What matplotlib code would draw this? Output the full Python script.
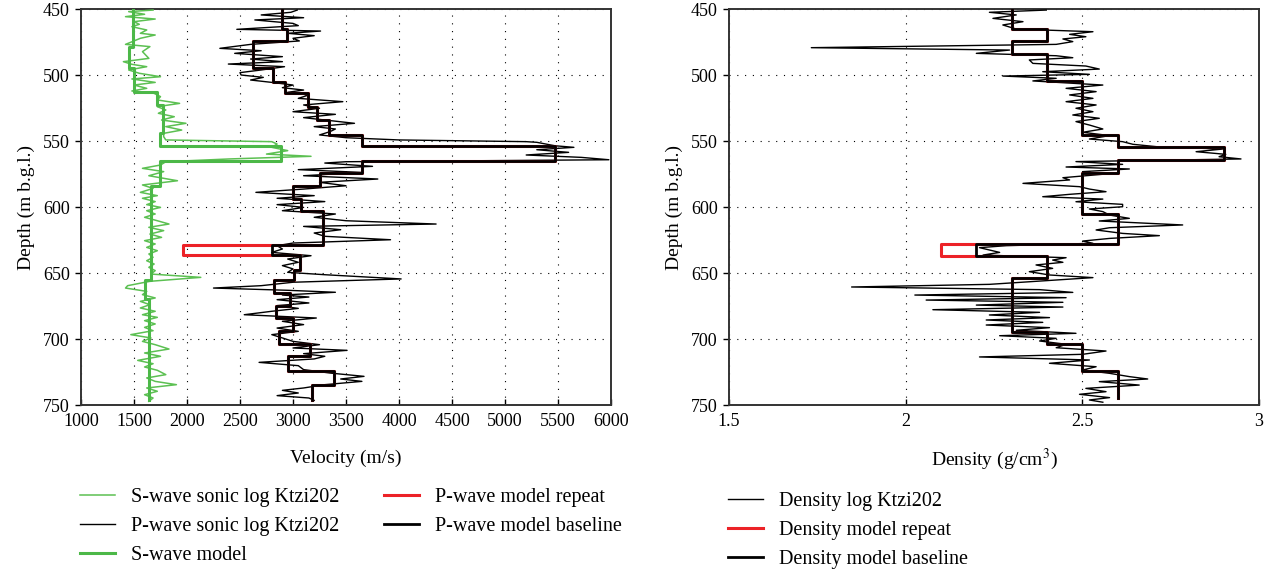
# plot.py
# Ktzi202 well logs vs. layered models: velocity (left) and density (right)

import numpy as np
import matplotlib
matplotlib.use('Agg')
import matplotlib.pyplot as plt

# ----------------------------------------------------------------------------
# 1. Data
# ----------------------------------------------------------------------------

# P-wave sonic log Ktzi202 (depth m, velocity m/s)
p_log_depth = [450.8, 452.5, 454.5, 456.6, 458.3, 460.9, 462.6, 465.4, 466.7, 468.4,
               470.2, 472.2, 474.2, 476.8, 479.8, 481.6, 483.6, 486.1, 487.9, 489.9,
               491.7, 493.7, 496.2, 498.2, 500.0, 501.8, 503.8, 505.6, 507.6, 509.6,
               511.4, 513.1, 515.1, 517.7, 520.2, 522.7, 525.2, 527.8, 529.8, 532.3,
               534.1, 536.6, 539.1, 540.9, 542.9, 545.4, 547.5, 549.2, 550.5, 551.0,
               553.6, 554.8, 556.6, 558.6, 560.6, 562.4, 564.2, 565.7, 566.7, 569.2,
               571.7, 573.8, 576.3, 578.8, 581.3, 583.9, 586.4, 588.9, 591.4, 593.4,
               595.9, 598.2, 600.3, 602.8, 605.3, 607.8, 610.4, 612.9, 614.7, 617.2,
               619.7, 622.2, 624.8, 627.3, 629.3, 631.8, 634.4, 636.9, 639.4, 641.9,
               644.4, 646.9, 649.5, 651.3, 654.5, 657.0, 659.6, 661.4, 663.1, 664.6,
               666.7, 668.2, 670.2, 672.7, 674.7, 676.8, 679.0, 681.6, 684.1, 686.6,
               689.1, 691.7, 694.2, 696.7, 699.2, 701.8, 704.3, 706.8, 708.6, 711.1,
               713.1, 715.1, 717.7, 720.2, 723.2, 725.8, 728.3, 730.3, 732.1, 734.6,
               737.1, 738.9, 740.9, 742.9, 744.7, 746.5]
p_log_vel = [3040, 2980, 2700, 3100, 2640, 3000, 3050, 2470, 3260, 2950,
             3200, 3000, 3060, 2600, 2310, 2700, 2450, 2900, 2600, 2900,
             2390, 2920, 2700, 2500, 2510, 2720, 2600, 2800, 3000, 2900,
             3100, 2950, 3150, 3050, 3470, 3100, 3250, 3000, 3400, 3100,
             3300, 3580, 3200, 3400, 3350, 3250, 3500, 4000, 5200, 5300,
             5470, 5650, 5300, 5600, 5200, 5720, 5980, 3500, 3300, 3750,
             3050, 3650, 3100, 3800, 3250, 3500, 3100, 2650, 3200, 2850,
             3300, 2850, 3100, 2900, 3400, 3200, 3500, 4350, 3100, 3450,
             3200, 3300, 3920, 3000, 2850, 2900, 2800, 3170, 2950, 3050,
             2900, 3000, 2950, 3300, 4020, 3000, 2700, 2250, 2950, 3400,
             2900, 3150, 2850, 3150, 2850, 3050, 2800, 2540, 3220, 2900,
             3100, 2850, 3050, 2800, 2900, 3000, 3250, 3000, 3510, 3100,
             3300, 3200, 2680, 3050, 3100, 3350, 3670, 3450, 3650, 3300,
             3100, 2900, 3050, 2850, 3150, 3200]

# S-wave sonic log Ktzi202 (depth m, velocity m/s)
s_log_depth = [450.8, 452.0, 454.0, 455.8, 457.6, 459.6, 461.6, 463.4, 465.9, 468.4,
               469.7, 472.2, 474.2, 476.8, 478.5, 482.3, 487.4, 489.9, 491.9, 493.7,
               496.2, 498.7, 501.3, 503.0, 505.6, 507.6, 510.1, 512.1, 513.9, 516.4,
               518.9, 521.5, 524.0, 526.5, 529.0, 531.6, 534.1, 536.6, 539.1, 541.7,
               544.2, 546.7, 549.2, 550.5, 552.3, 554.8, 557.3, 559.9, 561.6, 563.6,
               565.7, 568.2, 570.7, 573.2, 576.3, 580.1, 583.3, 585.9, 588.9, 591.4,
               593.4, 595.9, 598.2, 600.3, 602.8, 605.3, 607.8, 610.4, 612.9, 615.4,
               617.9, 620.5, 623.0, 625.5, 628.0, 630.6, 633.1, 635.6, 638.1, 640.7,
               643.2, 645.7, 648.2, 650.8, 653.3, 656.3, 659.6, 661.4, 663.9, 666.4,
               668.9, 671.5, 674.0, 676.5, 679.0, 681.6, 683.6, 686.1, 688.6, 691.2,
               693.7, 696.7, 699.2, 701.8, 704.3, 707.6, 710.6, 713.1, 716.2, 718.7,
               721.2, 723.7, 727.0, 729.5, 732.1, 734.6, 737.1, 739.6, 742.2, 744.7,
               747.2]
s_log_vel = [1680, 1450, 1600, 1420, 1700, 1500, 1550, 1480, 1620, 1560,
             1700, 1560, 1500, 1420, 1650, 1580, 1640, 1400, 1480, 1620,
             1450, 1550, 1750, 1480, 1700, 1500, 1620, 1480, 1690, 1750,
             1720, 1930, 1720, 1800, 1730, 1880, 1760, 1990, 1800, 1950,
             1780, 1780, 1800, 2800, 2850, 2800, 2950, 2750, 3170, 2400,
             1800, 1750, 1580, 1780, 1640, 1910, 1580, 1680, 1560, 1720,
             1580, 1700, 1620, 1750, 1620, 1700, 1600, 1720, 1830, 1640,
             1780, 1650, 1760, 1600, 1700, 1620, 1720, 1640, 1680, 1620,
             1690, 1640, 1700, 1660, 2130, 1650, 1440, 1420, 1620, 1580,
             1700, 1560, 1650, 1560, 1700, 1580, 1720, 1600, 1700, 1600,
             1680, 1470, 1660, 1580, 1700, 1830, 1600, 1750, 1535, 1680,
             1600, 1720, 1800, 1620, 1700, 1900, 1620, 1720, 1600, 1680,
             1640]

# Layered velocity models: layer tops, last bottom, layer values
p_tops = [450, 465, 474.5, 495, 505, 514, 524, 534, 545.5, 553.5, 565, 574, 584,
          594, 603, 628.5, 636.5, 648, 655, 665, 675, 684, 694, 704, 712.5, 724.5,
          734.5]
p_bottom = 746
p_baseline = [2900, 2940, 2620, 2810, 2920, 3140, 3230, 3340, 3650, 5470, 3650, 3250,
              3000, 3075, 3280, 2800, 3065, 3010, 2820, 2975, 2840, 3000, 2870, 3165,
              2955, 3390, 3180]
p_repeat = [2900, 2940, 2620, 2810, 2920, 3140, 3230, 3340, 3650, 5470, 3650, 3250,
            3000, 3075, 3280, 1960, 3065, 3010, 2820, 2975, 2840, 3000, 2870, 3165,
            2955, 3390, 3180]

s_tops = [450, 478.5, 495, 512.5, 522.5, 544, 553.5, 565, 584, 655, 670]
s_bottom = 746
s_model = [1490, 1450, 1500, 1720, 1770, 1745, 2890, 1745, 1660, 1600, 1640]

# Density log Ktzi202 (depth m, g/cm3)
d_log_depth = [450.8, 452.5, 454.5, 457.1, 459.6, 462.1, 465.2, 467.2, 469.2, 471.0,
               472.7, 474.7, 476.8, 479.3, 481.1, 483.6, 485.4, 486.9, 488.6, 491.2,
               493.2, 495.5, 497.5, 499.5, 500.8, 502.5, 504.5, 507.6, 510.1, 512.6,
               515.1, 517.7, 520.2, 522.7, 525.2, 527.8, 530.3, 532.8, 535.3, 537.9,
               540.9, 543.4, 545.9, 548.5, 550.5, 552.5, 554.3, 556.1, 558.1, 560.1,
               561.9, 563.6, 565.6, 567.7, 569.7, 571.2, 573.2, 575.2, 577.8, 579.5,
               582.1, 584.6, 586.4, 588.4, 590.4, 592.2, 594.0, 596.0, 598.0, 599.8,
               601.5, 603.5, 606.1, 608.6, 610.6, 613.6, 615.7, 617.4, 620.0, 621.7,
               623.8, 625.8, 627.5, 629.3, 630.8, 632.6, 634.4, 636.4, 638.4, 640.2,
               641.9, 643.9, 646.5, 649.0, 651.5, 653.5, 656.1, 658.6, 660.6, 662.6,
               664.7, 666.7, 668.7, 670.5, 672.2, 674.3, 675.8, 677.8, 679.8, 681.8,
               683.8, 685.6, 687.4, 689.4, 691.4, 693.4, 695.7, 697.5, 699.5, 701.5,
               704.0, 706.6, 709.1, 711.6, 713.6, 715.9, 718.4, 721.0, 723.5, 726.0,
               728.5, 730.3, 732.3, 734.9, 737.4, 739.9, 741.9, 744.4, 746.2, 747.9]
d_log_rho = [2.398, 2.237, 2.313, 2.247, 2.332, 2.275, 2.313, 2.530, 2.464, 2.510,
             2.445, 2.473, 2.426, 1.733, 2.294, 2.200, 2.426, 2.473, 2.350, 2.360,
             2.510, 2.548, 2.388, 2.520, 2.275, 2.426, 2.360, 2.558, 2.454, 2.539,
             2.464, 2.530, 2.454, 2.539, 2.482, 2.530, 2.473, 2.548, 2.482, 2.520,
             2.558, 2.501, 2.577, 2.520, 2.614, 2.643, 2.710, 2.897, 2.822, 2.906,
             2.887, 2.949, 2.482, 2.614, 2.454, 2.633, 2.501, 2.558, 2.445, 2.464,
             2.332, 2.492, 2.520, 2.567, 2.464, 2.388, 2.558, 2.482, 2.614, 2.614,
             2.520, 2.558, 2.577, 2.633, 2.548, 2.784, 2.577, 2.539, 2.614, 2.718,
             2.577, 2.501, 2.530, 2.285, 2.209, 2.237, 2.266, 2.219, 2.454, 2.416,
             2.445, 2.369, 2.416, 2.350, 2.407, 2.530, 2.379, 2.237, 1.847, 2.379,
             2.473, 2.026, 2.454, 2.058, 2.445, 2.200, 2.445, 2.077, 2.379, 2.237,
             2.407, 2.228, 2.388, 2.228, 2.407, 2.313, 2.482, 2.266, 2.426, 2.379,
             2.454, 2.426, 2.567, 2.501, 2.209, 2.520, 2.407, 2.539, 2.501, 2.577,
             2.633, 2.685, 2.548, 2.661, 2.510, 2.567, 2.492, 2.577, 2.520, 2.558]

# Layered density models
d_tops = [450, 465, 474, 484, 504.5, 545.5, 554.5, 564.5, 574, 605, 628, 637, 654,
          694.5, 704, 724]
d_bottom = 745
d_baseline = [2.3, 2.4, 2.3, 2.4, 2.5, 2.6, 2.9, 2.6, 2.5, 2.6, 2.2, 2.4, 2.3, 2.4,
              2.5, 2.6]
d_repeat = [2.3, 2.4, 2.3, 2.4, 2.5, 2.6, 2.9, 2.6, 2.5, 2.6, 2.1, 2.4, 2.3, 2.4,
            2.5, 2.6]


def blocky(tops, bottom, values):
    """Turn layer tops + values into a staircase (values, depths)."""
    edges = list(tops) + [bottom]
    depth = np.column_stack([edges[:-1], edges[1:]]).ravel()
    vals = np.repeat(values, 2)
    return vals, depth


# ----------------------------------------------------------------------------
# 2. Figure
# ----------------------------------------------------------------------------
plt.rcParams['font.family'] = ['Liberation Serif', 'DejaVu Serif']
plt.rcParams['font.size'] = 13
plt.rcParams['mathtext.fontset'] = 'stix'

GREEN = '#4cb848'
GREEN_THIN = '#5cc052'
RED = '#ec2227'

W, H = 1271, 571
fig = plt.figure(figsize=(W / 100, H / 100), dpi=100)
ax1 = fig.add_axes([81 / W, 1 - 405 / H, 530 / W, 396 / H])
ax2 = fig.add_axes([729 / W, 1 - 405 / H, 530 / W, 396 / H])

# ---- left: velocity ----
ax1.plot(s_log_vel, s_log_depth, color=GREEN_THIN, lw=1.1, label='S-wave sonic log Ktzi202', zorder=3)
ax1.plot(p_log_vel, p_log_depth, color='black', lw=1.0, label='P-wave sonic log Ktzi202', zorder=3)
x, y = blocky(s_tops, s_bottom, s_model)
ax1.plot(x, y, color=GREEN, lw=2.2, label='S-wave model', zorder=4)
x, y = blocky(p_tops, p_bottom, p_repeat)
ax1.plot(x, y, color=RED, lw=2.2, label='P-wave model repeat', zorder=4)
x, y = blocky(p_tops, p_bottom, p_baseline)
ax1.plot(x, y, color='black', lw=2.0, label='P-wave model baseline', zorder=5)

ax1.set_xlim(1000, 6000)
ax1.set_xticks(np.arange(1000, 6001, 500))
ax1.set_xlabel('Velocity (m/s)', fontsize=14, labelpad=14)

# ---- right: density ----
ax2.plot(d_log_rho, d_log_depth, color='black', lw=1.0, label='Density log Ktzi202', zorder=3)
x, y = blocky(d_tops, d_bottom, d_repeat)
ax2.plot(x, y, color=RED, lw=2.2, label='Density model repeat', zorder=4)
x, y = blocky(d_tops, d_bottom, d_baseline)
ax2.plot(x, y, color='black', lw=2.0, label='Density model baseline', zorder=5)

ax2.set_xlim(1.5, 3.0)
ax2.set_xticks([1.5, 2.0, 2.5, 3.0])
ax2.set_xticklabels(['1.5', '2', '2.5', '3'])
ax2.set_xlabel('Density (g/cm$^3$)', fontsize=14, labelpad=12)

for ax in (ax1, ax2):
    ax.set_ylim(750, 450)
    ax.set_yticks(np.arange(450, 751, 50))
    ax.set_ylabel('Depth (m b.g.l.)', fontsize=14, labelpad=6)
    ax.grid(True, color='black', lw=0.8, linestyle=(0, (1, 6)))
    ax.tick_params(axis='y', direction='out', length=4, width=1, labelsize=13, pad=4)
    ax.tick_params(axis='x', direction='in', length=4, width=1, labelsize=13, pad=6)
    for sp in ax.spines.values():
        sp.set_linewidth(1.4)
        sp.set_color('#333333')

# ---- legends ----
fig.legend(handles=ax1.get_lines(), loc='upper left',
           bbox_to_anchor=(80 / W, 1 - 488 / H), ncol=2, frameon=False,
           fontsize=14.5, handlelength=1.75, handletextpad=0.8,
           columnspacing=2.2, labelspacing=0.5, borderpad=0, borderaxespad=0)
fig.legend(handles=ax2.get_lines(), loc='upper left',
           bbox_to_anchor=(728 / W, 1 - 492 / H), ncol=1, frameon=False,
           fontsize=14.5, handlelength=1.75, handletextpad=0.8,
           labelspacing=0.5, borderpad=0, borderaxespad=0)

fig.savefig('out.png', dpi=100)
